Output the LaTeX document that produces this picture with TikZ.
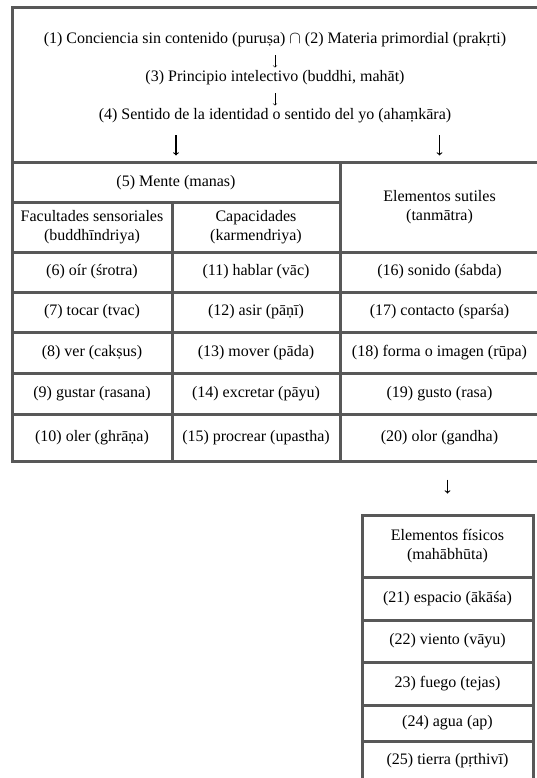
\documentclass[tikz,border=0pt]{standalone}
\usepackage{fontspec}
\setmainfont{Liberation Serif}
\usepackage{tikz}
\usetikzlibrary{positioning, arrows}
\definecolor{borde}{RGB}{88,88,88}
\tikzset
{
    celda/.style={draw=borde, line width=3pt, inner sep=0pt, align=center, font=\fontsize{16}{19}\selectfont}, % each box of the table
    texto/.style={inner sep=0pt, align=center, font=\fontsize{16}{19}\selectfont}, % plain lines of text
    flechita/.style={-to, line width=0.6pt, shorten <=8pt, shorten >=3pt}, % small arrows between lines
    flecha/.style={-to, line width=1.1pt}, % big arrows down to the boxes
}

\begin{document}
\begin{tikzpicture}[x=1pt, y=-1pt]
    \useasboundingbox (0,0) rectangle (537,778);
    \clip (0,0) rectangle (537,778);

    % Cabecera
    \node[celda, minimum width=527, minimum height=155] (cab) at (275.5,85.5) {};
    \node[texto] (n1) at (275,40) {(1) Conciencia sin contenido (puruṣa) $\cap$ (2) Materia primordial (prakṛti)};
    \node[texto] (n3) at (275,78) {(3) Principio intelectivo (buddhi, mahāt)};
    \node[texto] (n4) at (275,116) {(4) Sentido de la identidad o sentido del yo (ahaṃkāra)};

    % Encabezados de la tabla
    \node[celda, minimum width=328, minimum height=39] (mente) at (176,182.5) {(5) Mente (manas)};
    \node[celda, minimum width=199, minimum height=89] (sutiles) at (439.5,207.5) {Elementos sutiles\\(tanmātra)};
    \node[celda, minimum width=160, minimum height=50] (facul) at (92,227) {Facultades sensoriales\\(buddhīndriya)};
    \node[celda, minimum width=168, minimum height=50] (capac) at (256,227) {Capacidades\\(karmendriya)};

    % Filas
    \node[celda, minimum width=160, minimum height=40] (c6) at (92,272) {(6) oír (śrotra)};
    \node[celda, minimum width=168, minimum height=40] (c11) at (256,272) {(11) hablar (vāc)};
    \node[celda, minimum width=199, minimum height=40] (c16) at (439.5,272) {(16) sonido (śabda)};

    \node[celda, minimum width=160, minimum height=40] (c7) at (92,312) {(7) tocar (tvac)};
    \node[celda, minimum width=168, minimum height=40] (c12) at (256,312) {(12) asir (pāṇī)};
    \node[celda, minimum width=199, minimum height=40] (c17) at (439.5,312) {(17) contacto (sparśa)};

    \node[celda, minimum width=160, minimum height=41] (c8) at (92,352.5) {(8) ver (cakṣus)};
    \node[celda, minimum width=168, minimum height=41] (c13) at (256,352.5) {(13) mover (pāda)};
    \node[celda, minimum width=199, minimum height=41] (c18) at (439.5,352.5) {(18) forma o imagen (rūpa)};

    \node[celda, minimum width=160, minimum height=41] (c9) at (92,393.5) {(9) gustar (rasana)};
    \node[celda, minimum width=168, minimum height=41] (c14) at (256,393.5) {(14) excretar (pāyu)};
    \node[celda, minimum width=199, minimum height=41] (c19) at (439.5,393.5) {(19) gusto (rasa)};

    \node[celda, minimum width=160, minimum height=47] (c10) at (92,437.5) {(10) oler (ghrāṇa)};
    \node[celda, minimum width=168, minimum height=47] (c15) at (256,437.5) {(15) procrear (upastha)};
    \node[celda, minimum width=199, minimum height=47] (c20) at (439.5,437.5) {(20) olor (gandha)};

    % Elementos fisicos
    \node[celda, minimum width=171, minimum height=62] (fisicos) at (447.5,546) {Elementos físicos\\(mahābhūta)};
    \node[celda, minimum width=171, minimum height=43] (c21) at (447.5,598.5) {(21) espacio (ākāśa)};
    \node[celda, minimum width=171, minimum height=42] (c22) at (447.5,641) {(22) viento (vāyu)};
    \node[celda, minimum width=171, minimum height=43] (c23) at (447.5,683.5) {23) fuego (tejas)};
    \node[celda, minimum width=171, minimum height=36] (c24) at (447.5,723) {(24) agua (ap)};
    \node[celda, minimum width=171, minimum height=40] (c25) at (447.5,761) {(25) tierra (pṛthivī)};

    % Flechas
    \draw[flechita] (n1) -- (n3);
    \draw[flechita] (n3) -- (n4);
    \draw[flecha, shorten <=12pt, shorten >=6pt] (mente.north |- n4.south) -- (mente.north);
    \draw[flecha, shorten <=12pt, shorten >=6pt] (sutiles.north |- n4.south) -- (sutiles.north);
    \draw[flecha, shorten <=17pt, shorten >=20pt] (fisicos.north |- c20.south) -- (fisicos.north);
\end{tikzpicture}
\end{document}
